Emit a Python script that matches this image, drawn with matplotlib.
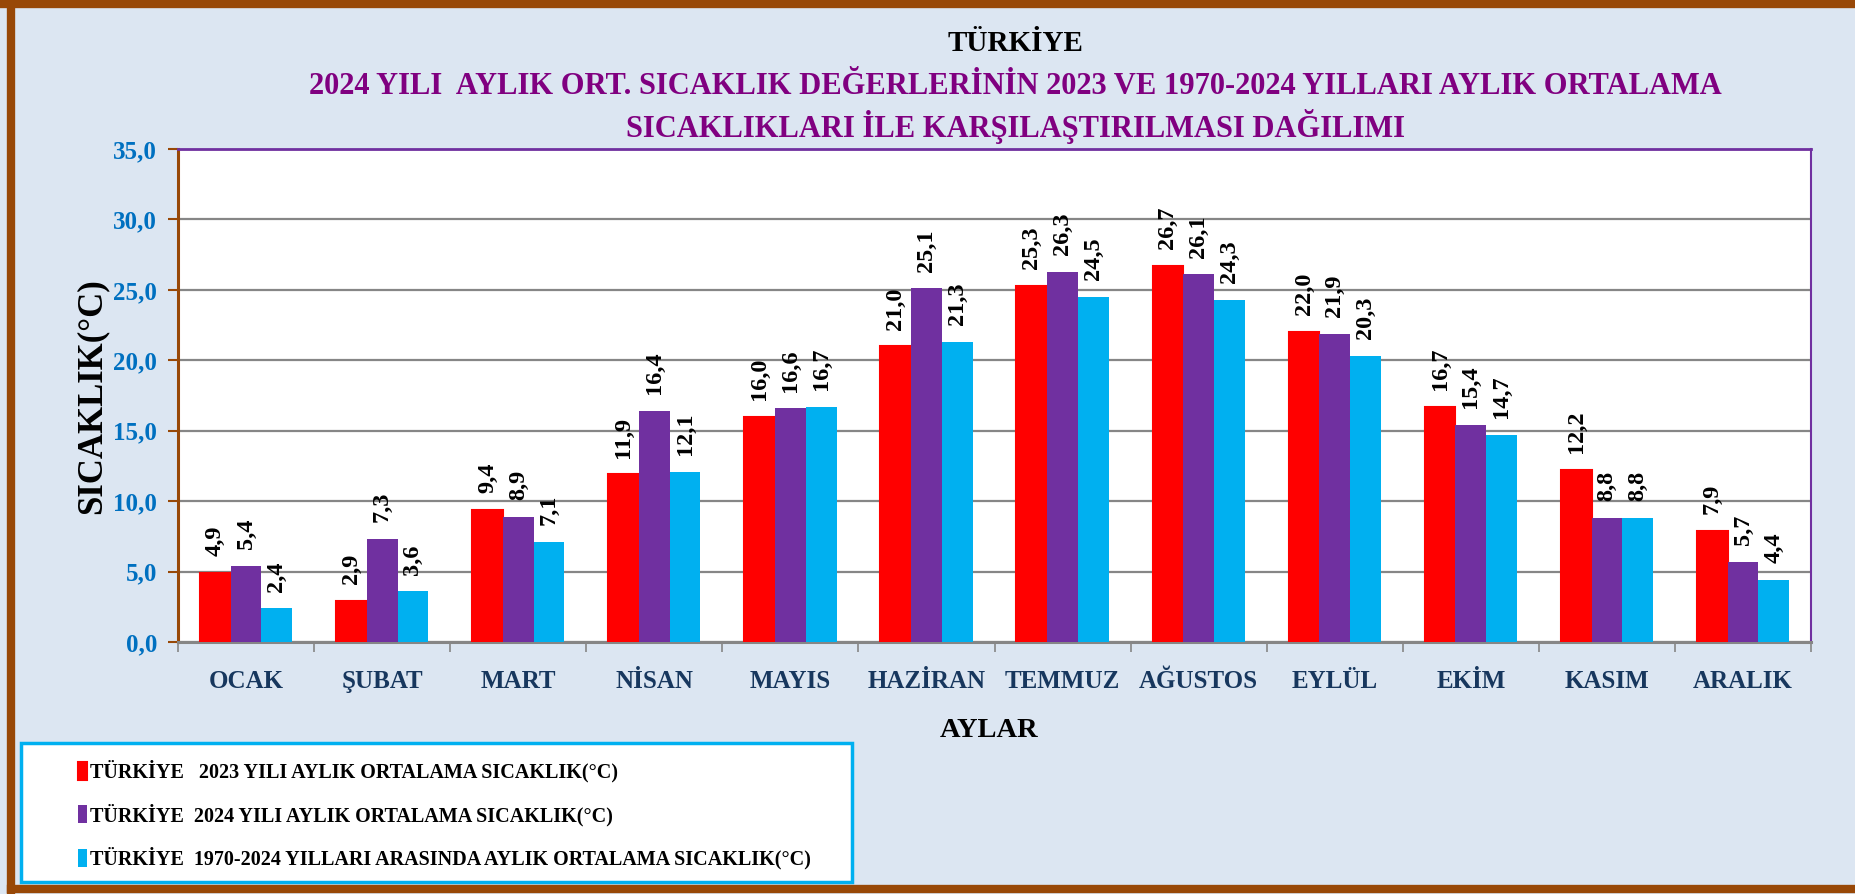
import matplotlib.pyplot as plt
import matplotlib.ticker as mticker
from matplotlib.patches import Rectangle
from matplotlib.lines import Line2D
import numpy as np

plt.rcParams['font.family'] = ['Liberation Serif', 'DejaVu Serif']
plt.rcParams['font.weight'] = 'bold'

# veriler
aylar = ['OCAK', 'ŞUBAT', 'MART', 'NİSAN', 'MAYIS', 'HAZİRAN',
         'TEMMUZ', 'AĞUSTOS', 'EYLÜL', 'EKİM', 'KASIM', 'ARALIK']
sic_2023 = [4.9, 2.9, 9.4, 11.9, 16.0, 21.0, 25.3, 26.7, 22.0, 16.7, 12.2, 7.9]
sic_2024 = [5.4, 7.3, 8.9, 16.4, 16.6, 25.1, 26.3, 26.1, 21.9, 15.4, 8.8, 5.7]
sic_1970_2024 = [2.4, 3.6, 7.1, 12.1, 16.7, 21.3, 24.5, 24.3, 20.3, 14.7, 8.8, 4.4]
etiketler = ['TÜRKİYE   2023 YILI AYLIK ORTALAMA SICAKLIK(°C)',
             'TÜRKİYE  2024 YILI AYLIK ORTALAMA SICAKLIK(°C)',
             'TÜRKİYE  1970-2024 YILLARI ARASINDA AYLIK ORTALAMA SICAKLIK(°C)']
renkler = ['#FF0000', '#7030A0', '#00B0F0']

fig = plt.figure(figsize=(18.56, 8.94), dpi=100, facecolor='#DCE6F2')
ax = fig.add_axes([0.0959, 0.2819, 0.8799, 0.5514])
ax.set_facecolor('white')

x = np.arange(len(aylar))
w = 0.226
seriler = [sic_2023, sic_2024, sic_1970_2024]
handles = []
for i, (vals, c) in enumerate(zip(seriler, renkler)):
    lw = 1.5 if i == 0 else 0
    bars = ax.bar(x + (i - 1) * w, vals, w, color=c, edgecolor=c, linewidth=lw,
                  zorder=3, label=etiketler[i])
    handles.append(bars)
    for xi, v in zip(x + (i - 1) * w, vals):
        ax.annotate(f'{v:.1f}'.replace('.', ','), (xi, v), xytext=(0, 12),
                    textcoords='offset points', rotation=90, ha='center', va='bottom',
                    fontsize=17.5, fontweight='bold', color='black')

ax.set_xlim(-0.5, len(aylar) - 0.5)
ax.set_ylim(0, 35)
ax.yaxis.set_major_locator(mticker.MultipleLocator(5))
ax.yaxis.set_major_formatter(mticker.FuncFormatter(lambda v, p: f'{v:.1f}'.replace('.', ',')))
ax.grid(axis='y', color='#868686', linewidth=1.6, zorder=0)
ax.set_axisbelow(True)

ax.set_xticks(x)
ax.set_xticklabels(aylar, fontsize=18, fontweight='bold', color='#17375E')
ax.set_xticks(np.arange(-0.5, len(aylar)), minor=True)
ax.tick_params(axis='x', which='major', length=0, pad=20)
ax.tick_params(axis='x', which='minor', length=7, width=1.2, color='#868686', direction='out')
ax.tick_params(axis='y', length=7, width=1.5, color='#984807', pad=8,
               labelsize=18, labelcolor='#0070C0')
for lab in ax.get_yticklabels():
    lab.set_fontweight('bold')

ax.spines['left'].set_color('#984807')
ax.spines['left'].set_linewidth(2.2)
ax.spines['bottom'].set_color('#868686')
ax.spines['bottom'].set_linewidth(2.2)
ax.spines['top'].set_color('#7030A0')
ax.spines['top'].set_linewidth(2)
ax.spines['right'].set_color('#7030A0')
ax.spines['right'].set_linewidth(1.5)

# basliklar
fig.text(0.547, 0.951, 'TÜRKİYE', ha='center', va='center', fontsize=21,
         fontweight='bold', color='black')
fig.text(0.547, 0.903, '2024 YILI  AYLIK ORT. SICAKLIK DEĞERLERİNİN 2023 VE 1970-2024 YILLARI AYLIK ORTALAMA',
         ha='center', va='center', fontsize=22, fontweight='bold', color='#800080')
fig.text(0.547, 0.858, 'SICAKLIKLARI İLE KARŞILAŞTIRILMASI DAĞILIMI',
         ha='center', va='center', fontsize=22, fontweight='bold', color='#800080')
fig.text(0.0496, 0.557, 'SICAKLIK(°C)', rotation=90, ha='center', va='center',
         fontsize=25, fontweight='bold', color='black')
fig.text(0.533, 0.183, 'AYLAR', ha='center', va='center', fontsize=20.5,
         fontweight='bold', color='black')

# lejant kutusu
fig.patches.append(Rectangle((0.0113, 0.0134), 0.4477, 0.1556, transform=fig.transFigure,
                             facecolor='white', edgecolor='#00B0F0', linewidth=2.5, zorder=1))
fig.legend(handles=handles, loc='upper left', bbox_to_anchor=(0.032, 0.170),
           frameon=False, handlelength=0.45, handleheight=1.0,
           handletextpad=0.15, labelspacing=1.05, prop={'weight': 'bold', 'size': 14.5})

# kahverengi cerceve
cer = dict(color='#984807', linewidth=6, transform=fig.transFigure)
fig.lines.append(Line2D([0, 1], [0.996, 0.996], **cer))
fig.lines.append(Line2D([0.006, 0.006], [0.004, 0.996], **cer))
fig.lines.append(Line2D([0.006, 1], [0.006, 0.006], **cer))

fig.savefig('out.png', dpi=100, facecolor=fig.get_facecolor())
